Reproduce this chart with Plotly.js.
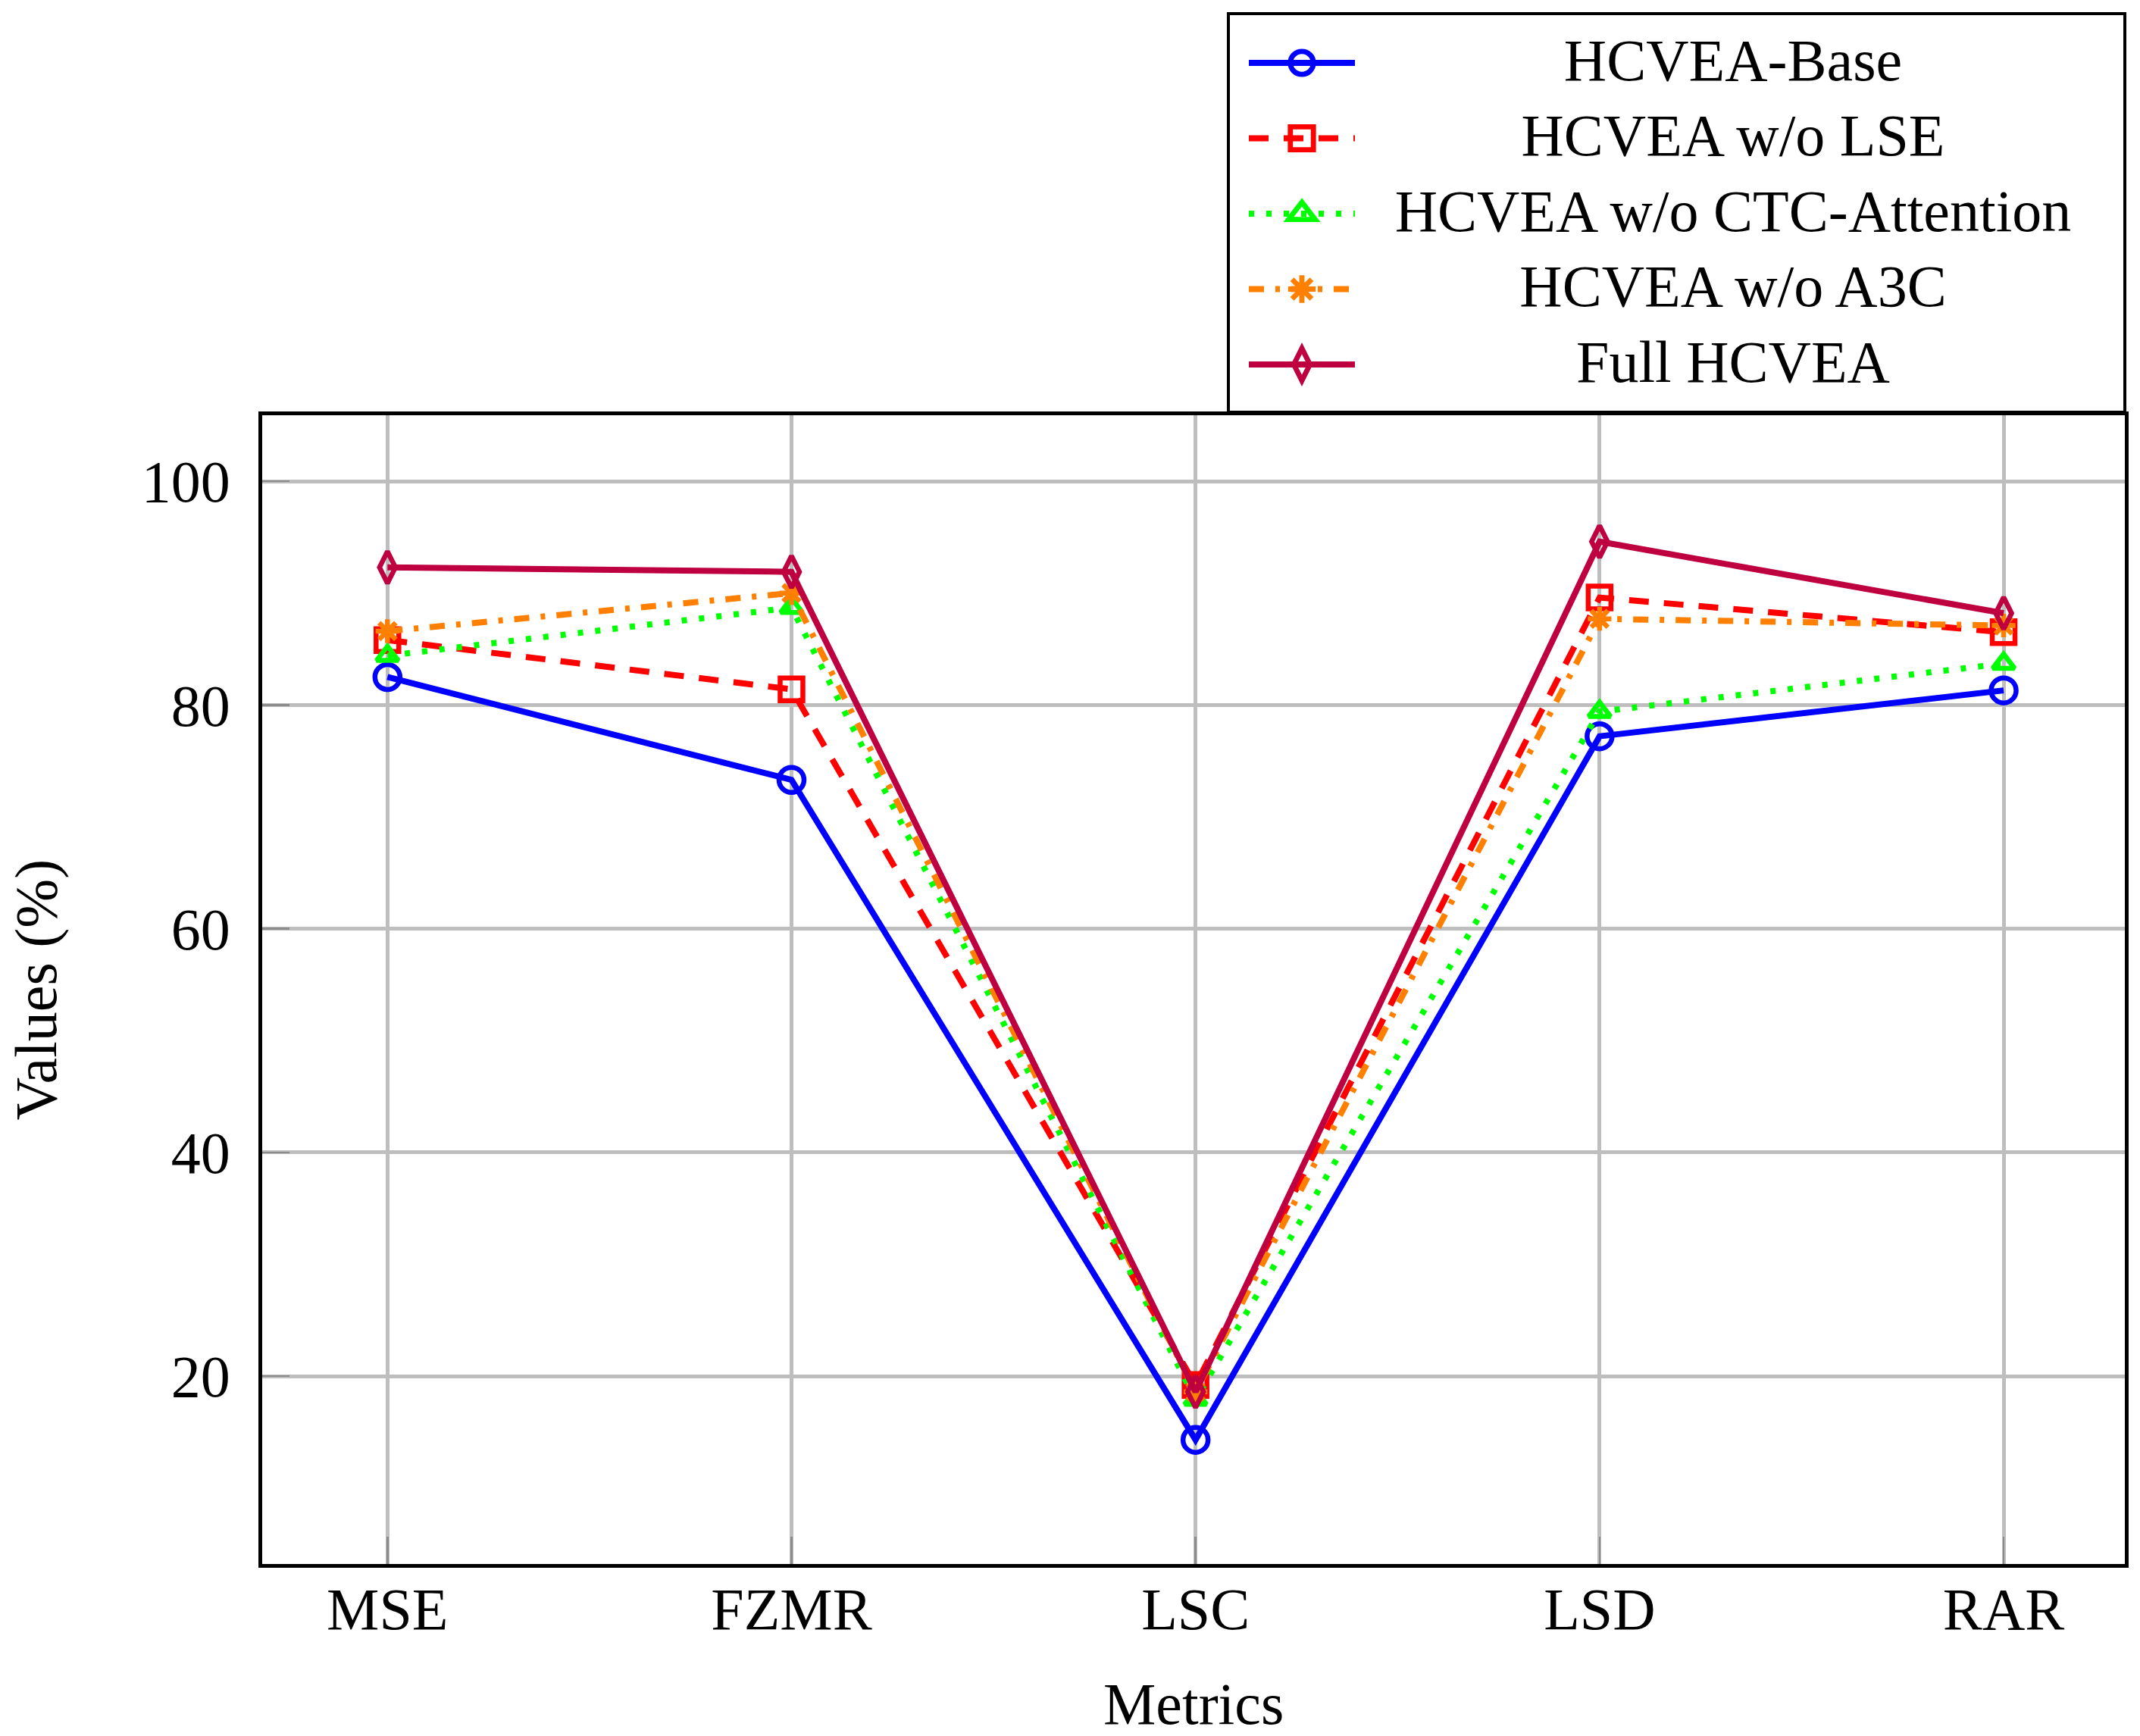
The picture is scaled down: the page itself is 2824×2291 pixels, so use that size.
<!DOCTYPE html>
<html>
<head>
<meta charset="utf-8">
<script src="https://cdn.plot.ly/plotly-3.0.1.min.js"></script>
<style>html,body{margin:0;padding:0;background:#fff;}#chart{width:2824px;height:2291px;}</style>
</head>
<body>
<div id="chart"></div>
<script>
const categories = ["MSE", "FZMR", "LSC", "LSD", "RAR"];
const seriesNames = ["HCVEA-Base", "HCVEA w/o LSE", "HCVEA w/o CTC-Attention", "HCVEA w/o A3C", "Full HCVEA"];
const baseValues = [82.5, 73.3, 14.3, 77.2, 81.3];
const noLSEValues = [85.8, 81.4, 19.2, 89.6, 86.5];
const noCTCValues = [84.4, 88.7, 17.9, 79.4, 83.7];
const noA3CValues = [86.6, 90.0, 18.6, 87.7, 87.1];
const fullValues = [92.3, 91.9, 18.6, 94.6, 88.2];
const yTicks = [20, 40, 60, 80, 100];
const xTitle = "Metrics";
const yTitle = "Values (%)";

const FONT = "Liberation Serif, serif";
const FS = 78;
const styles = [
  {color: "#0000FF", dash: "solid", symbol: "circle-open", size: 33},
  {color: "#FF0000", dash: "26px,20px", symbol: "square-open", size: 30},
  {color: "#00FF00", dash: "7px,16px", symbol: "triangle-up-open", size: 25},
  {color: "#FF8000", dash: "20px,15px,6px,15px", symbol: "asterisk-open", size: 26},
  {color: "#BF0040", dash: "solid", symbol: "diamond-tall-open", size: 30}
];
const allValues = [baseValues, noLSEValues, noCTCValues, noA3CValues, fullValues];

const traces = allValues.map((vals, i) => ({
  type: "scatter",
  mode: "lines+markers",
  name: seriesNames[i],
  x: categories.map((c, k) => k),
  y: vals,
  line: {color: styles[i].color, width: 8, dash: styles[i].dash},
  marker: {symbol: styles[i].symbol, size: styles[i].size, color: styles[i].color,
           line: {color: styles[i].color, width: 6.5}}
}));

const layout = {
  width: 2824, height: 2291,
  margin: {l: 346, r: 20, t: 548, b: 227},
  paper_bgcolor: "#fff", plot_bgcolor: "#fff",
  font: {family: FONT, size: FS, color: "#000"},
  showlegend: true,
  legend: {
    x: 1, xanchor: "right", y: 1.3496, yanchor: "top",
    bordercolor: "#000", borderwidth: 4.5, bgcolor: "#fff",
    font: {family: FONT, size: FS, color: "#000"},
    itemwidth: 140, tracegroupgap: 0
  },
  annotations: [{
    text: xTitle, xref: "paper", yref: "paper", x: 0.5, y: -0.1214,
    xanchor: "center", yanchor: "middle", showarrow: false,
    font: {family: FONT, size: FS, color: "#000"}
  }],
  xaxis: {
    range: [-0.31, 4.3],
    tickmode: "array", tickvals: categories.map((c, k) => k), ticktext: categories,
    showgrid: true, gridcolor: "#BEBEBE", gridwidth: 5,
    zeroline: false, showline: true, linecolor: "#000", linewidth: 4.7, mirror: true,
    ticks: "inside", ticklen: 36, tickwidth: 2.5, tickcolor: "#8C8C8C",
    ticklabelstandoff: -12,
    tickfont: {family: FONT, size: FS}
  },
  yaxis: {
    range: [3.2, 105.9],
    tickmode: "array", tickvals: yTicks, ticktext: yTicks.map(String),
    showgrid: true, gridcolor: "#BEBEBE", gridwidth: 5,
    zeroline: false, showline: true, linecolor: "#000", linewidth: 4.7, mirror: true,
    ticks: "inside", ticklen: 36, tickwidth: 2.5, tickcolor: "#8C8C8C",
    ticklabelstandoff: 22,
    tickfont: {family: FONT, size: FS},
    title: {text: yTitle, font: {family: FONT, size: FS}, standoff: 88}
  }
};

function parseTranslate(s) {
  const m = /translate\(\s*([-\d.e+]+)[\s,]+([-\d.e+]+)\s*\)/.exec(s || "");
  return m ? [parseFloat(m[1]), parseFloat(m[2])] : [0, 0];
}

// Idempotent finishing touches: reference-style legend box with centred labels
function finish(gd) {
  try {
    const box = {left: 1621, right: 2804, top: 18, bottom: 544};
    const leg = gd.querySelector("g.legend");
    if (!leg) return;
    const bg = leg.querySelector("rect.bg");
    const sb = leg.querySelector("g.scrollbox");
    if (sb) sb.removeAttribute("clip-path");
    const bgR = bg.getBoundingClientRect();
    const bx = parseFloat(bg.getAttribute("x")) || 0, by = parseFloat(bg.getAttribute("y")) || 0;
    const offX = bgR.left - bx, offY = bgR.top - by;
    bg.setAttribute("x", box.left - offX);
    bg.setAttribute("y", box.top - offY);
    bg.setAttribute("width", box.right - box.left);
    bg.setAttribute("height", box.bottom - box.top);

    Array.from(leg.querySelectorAll("g.traces")).forEach(function (g, i) {
      const [tx, ty] = parseTranslate(g.getAttribute("transform"));
      const line = g.querySelector("path.js-line") || g.querySelector(".legendlines path");
      const lineY = box.top + 65 + 99.5 * i;
      if (line) {
        const lr = line.getBoundingClientRect();
        const dx = (box.left + 27) - lr.left;
        const dy = lineY - (lr.top + lr.height / 2);
        g.setAttribute("transform", "translate(" + (tx + dx) + "," + (ty + dy) + ")");
      }
      g.querySelectorAll(".legendpoints path.scatterpts, .legendpoints path.point").forEach(function (p) {
        if (p.getAttribute("data-scaled") !== "1") {
          p.setAttribute("transform", (p.getAttribute("transform") || "") + " scale(1.9)");
          p.style.strokeWidth = "3.6px";
          p.setAttribute("data-scaled", "1");
        }
      });
      const t = g.querySelector("text.legendtext");
      if (t) {
        t.setAttribute("text-anchor", "middle");
        t.style.textAnchor = "middle";
        const r = t.getBoundingClientRect();
        const cx = r.left + r.width / 2;
        const cy = r.top + r.height / 2;
        const target = box.right - 517;
        t.setAttribute("x", (parseFloat(t.getAttribute("x")) || 0) + (target - cx));
        t.setAttribute("y", (parseFloat(t.getAttribute("y")) || 0) + ((lineY - 4) - cy));
      }
    });
  } catch (e) { console.error(e); }
}

Plotly.newPlot("chart", traces, layout, {displayModeBar: false, staticPlot: true}).then(function (gd) {
  finish(gd);
  gd.on("plotly_afterplot", function () { finish(gd); });
  requestAnimationFrame(function () { finish(gd); });
  setTimeout(function () { finish(gd); }, 50);
});
</script>
</body>
</html>
